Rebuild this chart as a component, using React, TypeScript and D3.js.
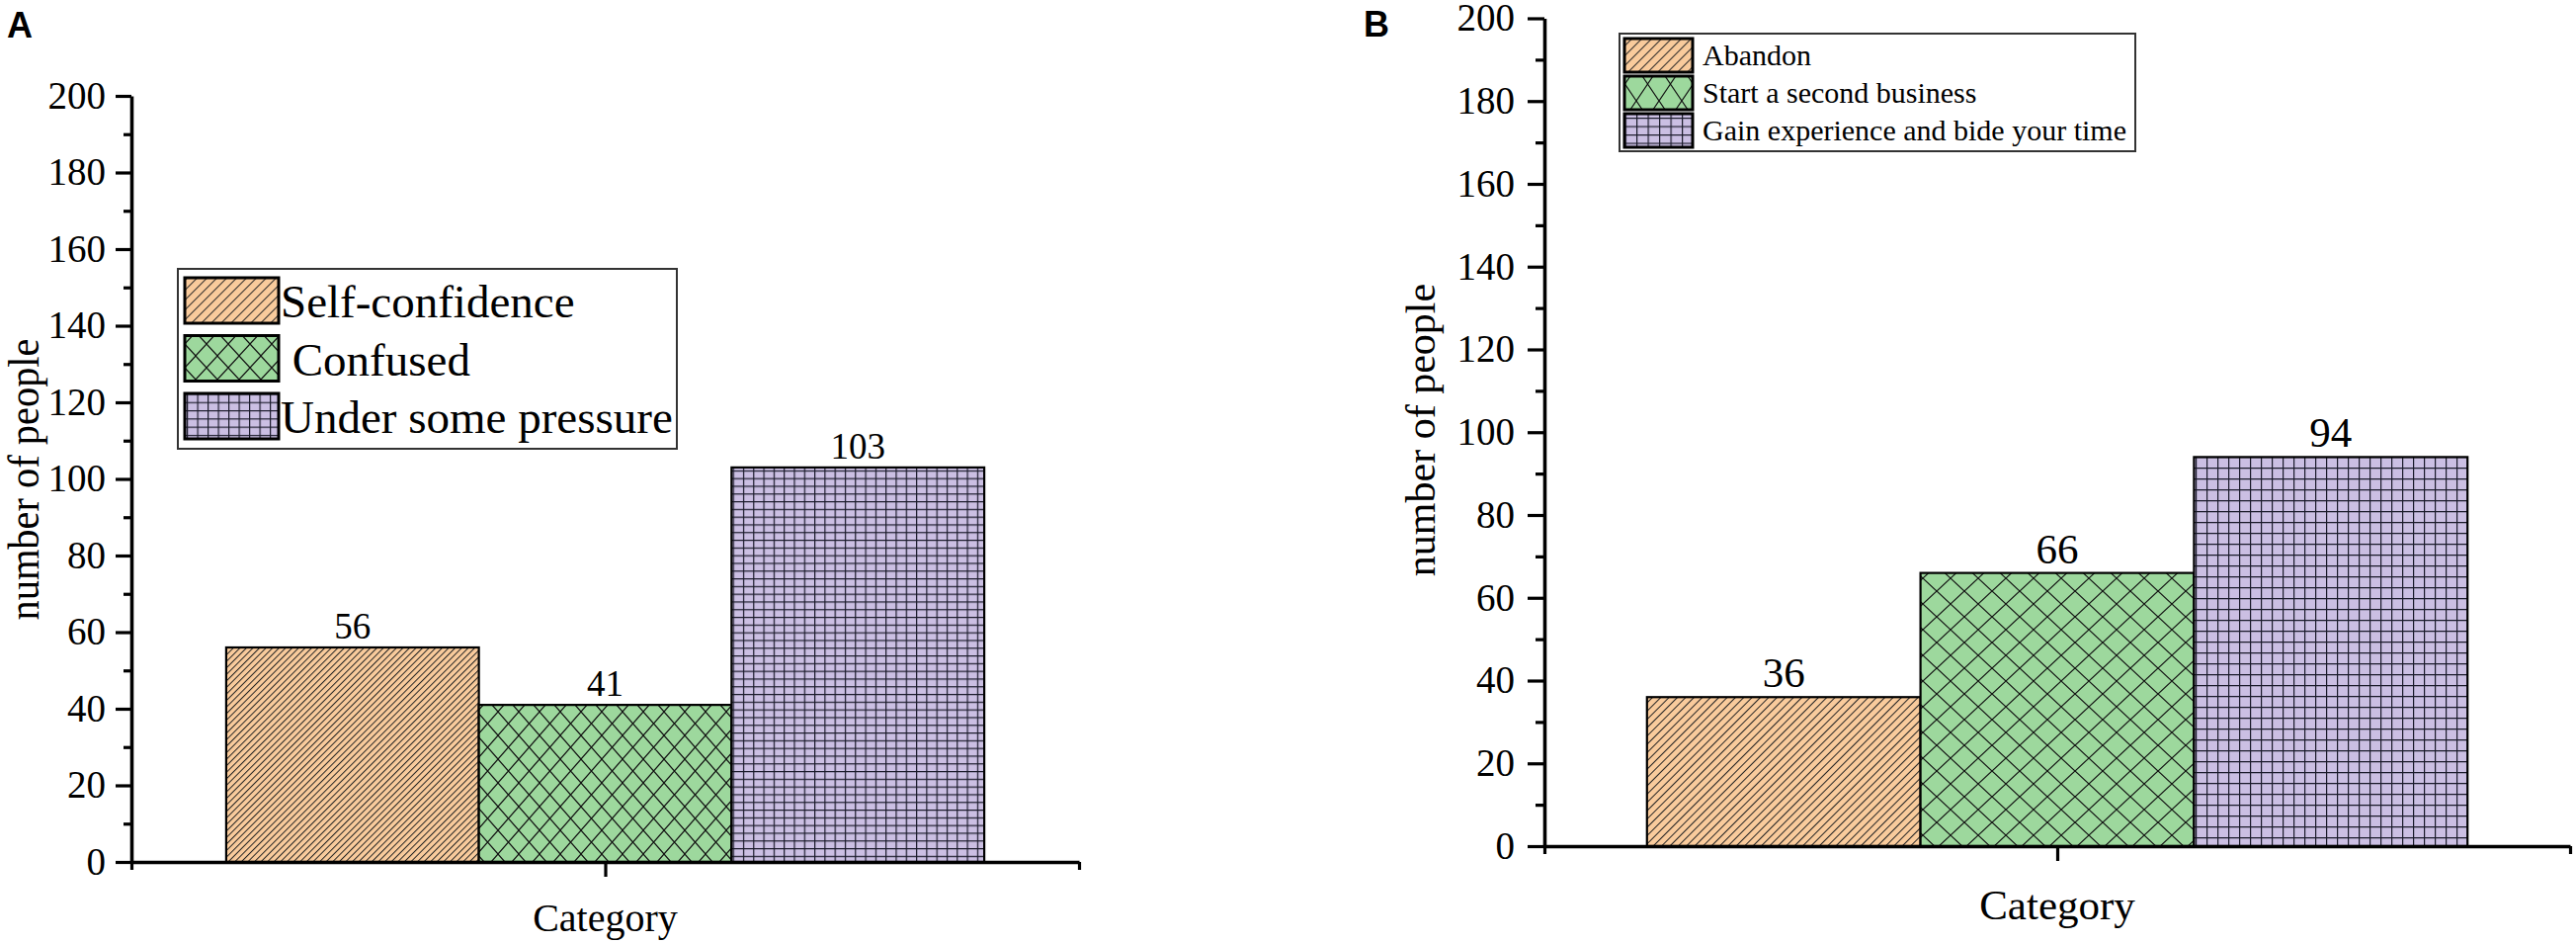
import { useEffect, useRef } from 'react';
import * as d3 from 'd3';

// Panel A: state of mind
const categoriesA = ['Self-confidence', 'Confused', 'Under some pressure'];
const legendLabelsA = ['Self-confidence', ' Confused', 'Under some pressure'];
const valuesA = [56, 41, 103];

// Panel B: what to do after failure
const categoriesB = ['Abandon', 'Start a second business', 'Gain experience and bide your time'];
const valuesB = [36, 66, 94];

const yMajorTicks = [0, 20, 40, 60, 80, 100, 120, 140, 160, 180, 200];
const yMinorTicks = [10, 30, 50, 70, 90, 110, 130, 150, 170, 190];

const fills = ['#F9CB9C', '#9DD89D', '#CBBFE3'];
const kinds = ['diag', 'cross', 'grid'];

const W = 2607;
const H = 954;
const SERIF = '"Liberation Serif", "Times New Roman", Times, serif';

interface PatternSize {
  diag: number;
  cross: [number, number];
  grid: [number, number];
}

interface PanelSpec {
  id: string;
  letter: string;
  letterX: number;
  letterY: number;
  categories: string[];
  legendLabels: string[];
  values: number[];
  x0: number;
  x1: number;
  yBottom: number;
  yTop: number;
  tickFont: number;
  majorLen: number;
  minorLen: number;
  tickPad: number;
  valueFont: number;
  valueGap: number;
  catFont: number;
  catY: number;
  yLabelX: number;
  yLabelY: number;
  yLabelFont: number;
  yLabelLen?: number;
  legend: {
    x: number;
    y: number;
    w: number;
    h: number;
    swX: number;
    swW: number;
    swH: number;
    rowTop: number;
    pitch: number;
    textX: number;
    font: number;
    baseOff: number;
  };
  barPat: PatternSize;
  legPat: PatternSize;
}

const panels: PanelSpec[] = [
  {
    id: 'a',
    letter: 'A',
    letterX: 7,
    letterY: 38,
    categories: categoriesA,
    legendLabels: legendLabelsA,
    values: valuesA,
    x0: 133,
    x1: 1092,
    yBottom: 872,
    yTop: 97,
    tickFont: 39,
    majorLen: 16,
    minorLen: 8,
    tickPad: 10,
    valueFont: 37,
    valueGap: 9,
    catFont: 40,
    catY: 942,
    yLabelX: 39,
    yLabelY: 485,
    yLabelFont: 44,
    yLabelLen: 285,
    legend: { x: 180, y: 272, w: 505, h: 182, swX: 187, swW: 95, swH: 46, rowTop: 281, pitch: 58.5, textX: 284, font: 47, baseOff: 17 },
    barPat: { diag: 6.6, cross: [21, 24], grid: [10.3, 7.8] },
    legPat: { diag: 10, cross: [22, 24], grid: [10.5, 8.3] },
  },
  {
    id: 'b',
    letter: 'B',
    letterX: 1380,
    letterY: 37,
    categories: categoriesB,
    legendLabels: categoriesB,
    values: valuesB,
    x0: 1563,
    x1: 2601,
    yBottom: 856,
    yTop: 18.5,
    tickFont: 39,
    majorLen: 17,
    minorLen: 9,
    tickPad: 13,
    valueFont: 43,
    valueGap: 10,
    catFont: 43,
    catY: 930,
    yLabelX: 1452,
    yLabelY: 435,
    yLabelFont: 42,
    legend: { x: 1639, y: 34, w: 522, h: 119, swX: 1644, swW: 69, swH: 34, rowTop: 39, pitch: 38, textX: 1723, font: 30, baseOff: 10 },
    barPat: { diag: 8.4, cross: [28, 26], grid: [11, 11] },
    legPat: { diag: 10, cross: [23, 34], grid: [11.5, 8.5] },
  },
];

function addPattern(
  defs: d3.Selection<SVGDefsElement, unknown, null, undefined>,
  id: string,
  kind: string,
  fill: string,
  size: PatternSize
) {
  if (kind === 'diag') {
    const s = size.diag * Math.SQRT1_2;
    const p = defs
      .append('pattern')
      .attr('id', id)
      .attr('patternUnits', 'userSpaceOnUse')
      .attr('width', s)
      .attr('height', s)
      .attr('patternTransform', 'rotate(45)');
    p.append('rect').attr('width', s).attr('height', s).attr('fill', fill);
    p.append('line').attr('x1', 0.5).attr('x2', 0.5).attr('y1', 0).attr('y2', s).attr('stroke', '#222').attr('stroke-width', 1);
  } else if (kind === 'cross') {
    const [w, h] = size.cross;
    const p = defs.append('pattern').attr('id', id).attr('patternUnits', 'userSpaceOnUse').attr('width', w).attr('height', h);
    p.append('rect').attr('width', w).attr('height', h).attr('fill', fill);
    p.append('path')
      .attr('d', `M0,0L${w},${h}M${w},0L0,${h}`)
      .attr('stroke', '#111')
      .attr('stroke-width', 1.2)
      .attr('fill', 'none');
  } else {
    const [w, h] = size.grid;
    const p = defs.append('pattern').attr('id', id).attr('patternUnits', 'userSpaceOnUse').attr('width', w).attr('height', h);
    p.append('rect').attr('width', w).attr('height', h).attr('fill', fill);
    p.append('path')
      .attr('d', `M0.6,0V${h}M0,0.6H${w}`)
      .attr('stroke', '#1a1a2a')
      .attr('stroke-width', 1.2)
      .attr('fill', 'none');
  }
}

function drawPanel(svg: d3.Selection<SVGSVGElement, unknown, null, undefined>, p: PanelSpec) {
  const defs = svg.append('defs');
  kinds.forEach((k, i) => {
    addPattern(defs, `${p.id}-bar-${i}`, k, fills[i], p.barPat);
    addPattern(defs, `${p.id}-leg-${i}`, k, fills[i], p.legPat);
  });

  const axisW = p.x1 - p.x0;
  const x = d3
    .scaleBand<string>()
    .domain(p.categories)
    .range([p.x0 + axisW * 0.1, p.x1 - axisW * 0.1])
    .padding(0);
  const y = d3.scaleLinear().domain([0, 200]).range([p.yBottom, p.yTop]);
  const xAxisScale = d3.scaleLinear().domain([0, 1]).range([p.x0, p.x1]);

  const g = svg.append('g');

  // Panel letter
  g.append('text')
    .attr('x', p.letterX)
    .attr('y', p.letterY)
    .style('font-family', '"Liberation Sans", Arial, sans-serif')
    .style('font-weight', 'bold')
    .style('font-size', '36px')
    .text(p.letter);

  // Bars
  g.selectAll('rect.bar')
    .data(p.values)
    .join('rect')
    .attr('class', 'bar')
    .attr('x', (_, i) => x(p.categories[i]) as number)
    .attr('width', x.bandwidth())
    .attr('y', (d) => y(d))
    .attr('height', (d) => y(0) - y(d))
    .attr('fill', (_, i) => `url(#${p.id}-bar-${i})`)
    .attr('stroke', '#000')
    .attr('stroke-width', 2.2);

  // Value labels
  g.selectAll('text.val')
    .data(p.values)
    .join('text')
    .attr('class', 'val')
    .attr('x', (_, i) => (x(p.categories[i]) as number) + x.bandwidth() / 2)
    .attr('y', (d) => y(d) - p.valueGap)
    .attr('text-anchor', 'middle')
    .style('font-family', SERIF)
    .style('font-size', `${p.valueFont}px`)
    .text((d) => d);

  // Y axis, major + minor
  const yAxis = g
    .append('g')
    .attr('transform', `translate(${p.x0},0)`)
    .call(
      d3
        .axisLeft(y)
        .tickValues(yMajorTicks)
        .tickSize(p.majorLen)
        .tickSizeOuter(0)
        .tickPadding(p.tickPad)
        .tickFormat(d3.format('d'))
    )
    .attr('font-family', null);
  yAxis.select('.domain').attr('stroke-width', 3.6);
  yAxis.selectAll('.tick line').attr('stroke-width', 3.2);
  yAxis
    .selectAll('.tick text')
    .attr('font-family', SERIF)
    .style('font-family', SERIF)
    .style('font-size', `${p.tickFont}px`)
    .attr('fill', '#000');

  const yMinor = g
    .append('g')
    .attr('transform', `translate(${p.x0},0)`)
    .call(d3.axisLeft(y).tickValues(yMinorTicks).tickSize(p.minorLen).tickSizeOuter(0).tickFormat(() => ''));
  yMinor.select('.domain').remove();
  yMinor.selectAll('.tick line').attr('stroke-width', 3.2);

  // X axis: centre tick and end ticks
  const xAxis = g
    .append('g')
    .attr('transform', `translate(0,${p.yBottom})`)
    .call(d3.axisBottom(xAxisScale).tickValues([0.5]).tickSize(15).tickSizeOuter(0).tickFormat(() => ''));
  xAxis.select('.domain').attr('stroke-width', 3.6);
  xAxis.selectAll('.tick line').attr('stroke-width', 3.2);

  const xEnds = g
    .append('g')
    .attr('transform', `translate(0,${p.yBottom})`)
    .call(d3.axisBottom(xAxisScale).tickValues([0, 1]).tickSize(8).tickSizeOuter(0).tickFormat(() => ''));
  xEnds.select('.domain').remove();
  xEnds.selectAll('.tick line').attr('stroke-width', 3.2);

  // Axis titles
  g.append('text')
    .attr('x', xAxisScale(0.5))
    .attr('y', p.catY)
    .attr('text-anchor', 'middle')
    .style('font-family', SERIF)
    .style('font-size', `${p.catFont}px`)
    .text('Category');

  const yl = g
    .append('text')
    .attr('transform', `translate(${p.yLabelX},${p.yLabelY}) rotate(-90)`)
    .attr('text-anchor', 'middle')
    .style('font-family', SERIF)
    .style('font-size', `${p.yLabelFont}px`)
    .text('number of people');
  if (p.yLabelLen) yl.attr('textLength', p.yLabelLen).attr('lengthAdjust', 'spacingAndGlyphs');

  // Legend
  const L = p.legend;
  g.append('rect')
    .attr('x', L.x)
    .attr('y', L.y)
    .attr('width', L.w)
    .attr('height', L.h)
    .attr('fill', '#fff')
    .attr('stroke', '#333')
    .attr('stroke-width', 2);

  p.legendLabels.forEach((label, i) => {
    const top = L.rowTop + i * L.pitch;
    g.append('rect')
      .attr('x', L.swX)
      .attr('y', top)
      .attr('width', L.swW)
      .attr('height', L.swH)
      .attr('fill', `url(#${p.id}-leg-${i})`)
      .attr('stroke', '#000')
      .attr('stroke-width', 3);
    g.append('text')
      .attr('x', L.textX)
      .attr('y', top + L.swH / 2 + L.baseOff)
      .style('font-family', SERIF)
      .style('font-size', `${L.font}px`)
      .style('white-space', 'pre')
      .text(label);
  });
}

export default function App() {
  const svgRef = useRef<SVGSVGElement>(null);

  useEffect(() => {
    if (!svgRef.current) return;
    const svg = d3.select(svgRef.current);
    svg.selectAll('*').remove();
    svg.append('rect').attr('width', W).attr('height', H).attr('fill', '#fff');
    panels.forEach((p) => drawPanel(svg, p));
  }, []);

  return (
    <>
      <style>{`body{margin:0;background:#fff}`}</style>
      <svg ref={svgRef} width={W} height={H} style={{ display: 'block' }} />
    </>
  );
}
